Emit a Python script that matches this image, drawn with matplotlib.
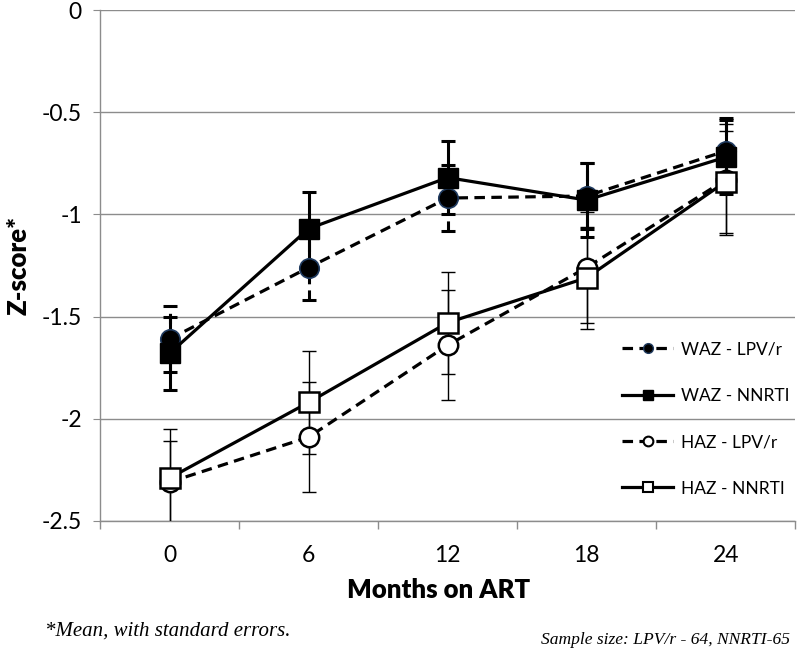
import matplotlib.pyplot as plt
from matplotlib.lines import Line2D
from matplotlib.ticker import FixedLocator

plt.rcParams['font.family'] = ['Lato', 'DejaVu Sans']

#------------------------------------------------------------------------------
# Data
#------------------------------------------------------------------------------
months = ['0', '6', '12', '18', '24']

waz_lpv = [-1.61, -1.26, -0.92, -0.91, -0.69]
waz_lpv_se = [0.16, 0.16, 0.16, 0.16, 0.16]

waz_nnrti = [-1.68, -1.07, -0.82, -0.93, -0.72]
waz_nnrti_se = [0.18, 0.18, 0.18, 0.18, 0.18]

haz_lpv = [-2.31, -2.09, -1.64, -1.26, -0.83]
haz_lpv_se = [0.20, 0.27, 0.27, 0.27, 0.27]

haz_nnrti = [-2.29, -1.92, -1.53, -1.31, -0.84]
haz_nnrti_se = [0.24, 0.25, 0.25, 0.25, 0.25]

labels = ['WAZ - LPV/r', 'WAZ - NNRTI', 'HAZ - LPV/r', 'HAZ - NNRTI']

#------------------------------------------------------------------------------
# Plot
#------------------------------------------------------------------------------
fig = plt.figure(figsize=(8, 6.54), dpi=100)
ax = fig.add_axes([0.125, 0.2034, 0.869, 0.7813])
x = list(range(len(months)))

dash = (3.3, 2.0)
lw = 2.3
ms = 14

# error bars
ax.errorbar(x, haz_lpv, yerr=haz_lpv_se, fmt='none', ecolor='black',
            elinewidth=1, capsize=5, capthick=1, zorder=3)
ax.errorbar(x, haz_nnrti, yerr=haz_nnrti_se, fmt='none', ecolor='black',
            elinewidth=1, capsize=5, capthick=1, zorder=3)
ax.errorbar(x, waz_nnrti, yerr=waz_nnrti_se, fmt='none', ecolor='black',
            elinewidth=2.2, capsize=5, capthick=2.2, zorder=3)
eb = ax.errorbar(x, waz_lpv, yerr=waz_lpv_se, fmt='none', ecolor='black',
                 elinewidth=2.2, capsize=5, capthick=2.2, zorder=3)
eb[2][0].set_linestyle((0, dash))

# series
ax.plot(x, haz_lpv, color='black', lw=lw, dashes=dash, marker='o', ms=ms,
        mfc='white', mec='black', mew=1.8, zorder=4)
ax.plot(x, haz_nnrti, color='black', lw=lw, marker='s', ms=ms,
        mfc='white', mec='black', mew=1.8, zorder=4)
ax.plot(x, waz_lpv, color='black', lw=lw, dashes=dash, marker='o', ms=ms,
        mfc='black', mec='#1f3a5f', mew=1.2, zorder=5)
ax.plot(x, waz_nnrti, color='black', lw=lw, marker='s', ms=ms,
        mfc='black', mec='black', zorder=5)

# axes
ax.set_xlim(-0.5, 4.5)
ax.set_ylim(-2.5, 0)
ax.set_yticks([0, -0.5, -1, -1.5, -2, -2.5])
ax.set_yticklabels(['0', '-0.5', '-1', '-1.5', '-2', '-2.5'])
ax.set_xticks(x)
ax.set_xticklabels(months)
ax.xaxis.set_minor_locator(FixedLocator([-0.5, 0.5, 1.5, 2.5, 3.5, 4.5]))
ax.tick_params(axis='x', which='major', length=0, pad=17, labelsize=16.5)
ax.tick_params(axis='x', which='minor', length=6, color='#8c8c8c', width=1)
ax.tick_params(axis='y', which='major', length=5, color='#8c8c8c', pad=8,
               labelsize=16.5)
ax.grid(axis='y', color='#8c8c8c', lw=1)
ax.set_axisbelow(True)
for s in ['top', 'right']:
    ax.spines[s].set_visible(False)
for s in ['left', 'bottom']:
    ax.spines[s].set_color('#8c8c8c')
    ax.spines[s].set_linewidth(1)

ax.set_xlabel('Months on ART', fontsize=18.5, fontweight='heavy', labelpad=9,
              x=0.487)
ax.set_ylabel('Z-score*', fontsize=18.5, fontweight='heavy', labelpad=8)

# legend
handles = [
    Line2D([], [], color='black', lw=lw, dashes=dash, marker='o', ms=7,
           mfc='black', mec='#1f3a5f'),
    Line2D([], [], color='black', lw=lw, marker='s', ms=7, mfc='black'),
    Line2D([], [], color='black', lw=lw, dashes=dash, marker='o', ms=7,
           mfc='white', mec='black', mew=1.5),
    Line2D([], [], color='black', lw=lw, marker='s', ms=7, mfc='white',
           mec='black', mew=1.5),
]
fig.legend(handles, labels, loc='upper left', bbox_to_anchor=(0.778, 0.478),
           frameon=False, fontsize=12.5, handlelength=2.9, handletextpad=0.45,
           labelspacing=1.75, borderpad=0, borderaxespad=0)

# footnotes
fig.text(0.056, 0.028, '*Mean, with standard errors.', family='Liberation Serif',
         style='italic', fontsize=15)
fig.text(0.988, 0.015, 'Sample size: LPV/r - 64, NNRTI-65', family='Liberation Serif',
         style='italic', fontsize=12.6, ha='right')

fig.savefig('out.png', dpi=100)
